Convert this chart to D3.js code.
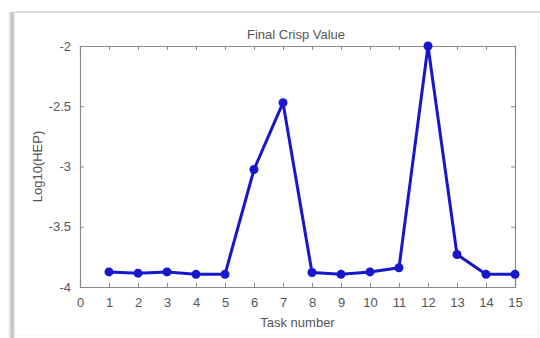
<!DOCTYPE html>
<html><head><meta charset="utf-8">
<script src="https://cdn.jsdelivr.net/npm/d3@7"></script>
<style>body{margin:0;background:#fff;}svg{display:block;font-family:"Liberation Sans",Arial,sans-serif;}</style>
</head><body><svg id="c" width="540" height="338"></svg>
<script>
const tasks = [1,2,3,4,5,6,7,8,9,10,11,12,13,14,15];
const logHEP = [-3.875,-3.885,-3.875,-3.895,-3.895,-3.025,-2.47,-3.88,-3.895,-3.875,-3.84,-2.0,-3.73,-3.895,-3.895];
const xTicks = [0,1,2,3,4,5,6,7,8,9,10,11,12,13,14,15];
const yTicks = [-4,-3.5,-3,-2.5,-2];
const title = "Final Crisp Value";
const xLabel = "Task number";
const yLabel = "Log10(HEP)";

const svg = d3.select("#c");
// screenshot frame
const defs = svg.append("defs");
const g1 = defs.append("linearGradient").attr("id","sh").attr("x1","0").attr("x2","1");
g1.append("stop").attr("offset","0").attr("stop-color","#fff");
g1.append("stop").attr("offset","0.6").attr("stop-color","#bbb");
g1.append("stop").attr("offset","1").attr("stop-color","#eee");
svg.append("rect").attr("x",8).attr("y",12).attr("width",7).attr("height",326).attr("fill","url(#sh)");
svg.append("line").attr("x1",14).attr("x2",540).attr("y1",12).attr("y2",12).attr("stroke","#ddd").attr("stroke-width",2);
svg.append("line").attr("x1",538).attr("x2",538).attr("y1",12).attr("y2",338).attr("stroke","#eee").attr("stroke-width",1);
svg.append("line").attr("x1",15).attr("x2",538).attr("y1",335).attr("y2",335).attr("stroke","#f0f0f0").attr("stroke-width",1);

const L=80, R=515, T=46, B=287;
const x = d3.scaleLinear().domain([0,15]).range([L,R]);
const y = d3.scaleLinear().domain([-4,-2]).range([B,T]);
const axCol = "#8a8a8a", txtCol = "#555";

const tl = 4;
const gx = svg.append("g").attr("transform",`translate(0,${B})`)
  .call(d3.axisBottom(x).tickValues(xTicks).tickSize(-tl).tickPadding(11).tickFormat(d3.format("d")));
const gxt = svg.append("g").attr("transform",`translate(0,${T})`)
  .call(d3.axisTop(x).tickValues(xTicks).tickSize(-tl).tickFormat(""));
const gy = svg.append("g").attr("transform",`translate(${L},0)`)
  .call(d3.axisLeft(y).tickValues(yTicks).tickSize(-tl).tickPadding(9).tickFormat(d => String(d)));
const gyr = svg.append("g").attr("transform",`translate(${R},0)`)
  .call(d3.axisRight(y).tickValues(yTicks).tickSize(-tl).tickFormat(""));
[gx,gxt,gy,gyr].forEach(g=>{
  g.select(".domain").attr("stroke",axCol).attr("stroke-width",1.2);
  g.selectAll(".tick line").attr("stroke",axCol);
  g.selectAll(".tick text").attr("fill",txtCol).attr("font-size",13).attr("font-family","Liberation Sans, Arial, sans-serif");
});

const line = d3.line().x((d,i)=>x(tasks[i])).y(d=>y(d));
svg.append("path").datum(logHEP).attr("d",line).attr("fill","none")
  .attr("stroke","#1616cc").attr("stroke-width",3).attr("stroke-linejoin","round");
svg.selectAll("circle.pt").data(logHEP).join("circle").attr("class","pt")
  .attr("cx",(d,i)=>x(tasks[i])).attr("cy",d=>y(d)).attr("r",4.5).attr("fill","#1616cc");

svg.append("text").attr("x",296).attr("y",39).attr("text-anchor","middle")
  .attr("font-size",13).attr("fill",txtCol).text(title);
svg.append("text").attr("x",(L+R)/2).attr("y",327).attr("text-anchor","middle")
  .attr("font-size",13).attr("fill",txtCol).text(xLabel);
svg.append("text").attr("transform",`translate(42,${(T+B)/2}) rotate(-90)`).attr("text-anchor","middle")
  .attr("font-size",13).attr("fill",txtCol).text(yLabel);
</script></body></html>
